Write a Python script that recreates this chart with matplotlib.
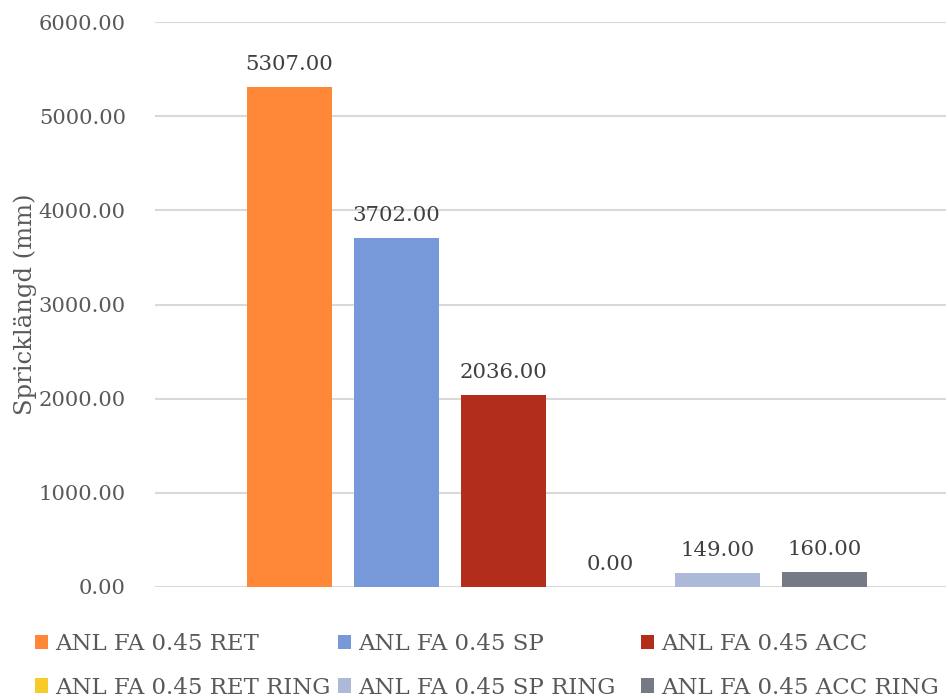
import matplotlib
matplotlib.use("Agg")
import matplotlib.pyplot as plt
from matplotlib.patches import Patch

series = ["ANL FA 0.45 RET", "ANL FA 0.45 SP", "ANL FA 0.45 ACC",
          "ANL FA 0.45 RET RING", "ANL FA 0.45 SP RING", "ANL FA 0.45 ACC RING"]
values = [5307.00, 3702.00, 2036.00, 0.00, 149.00, 160.00]
colors = ["#FF8838", "#7799D9", "#B22E1A", "#F6CB2A", "#ADB9D8", "#767A84"]
yticks = [0, 1000, 2000, 3000, 4000, 5000, 6000]
ylabel = "Spricklängd (mm)"

plt.rcParams["font.family"] = ["DejaVu Serif"]

W, H = 948, 700
fig = plt.figure(figsize=(W / 100, H / 100), dpi=100)
ax = fig.add_axes([155 / W, 1 - 587 / H, (946 - 155) / W, (587 - 22) / H])

pos = list(range(len(values)))
bars = ax.bar(pos, values, width=0.794, color=colors, zorder=3)
ax.bar_label(bars, labels=[f"{v:.2f}" for v in values], padding=9.5,
             fontsize=15.3, color="#404040")

ax.set_xlim(-1.257, 6.136)
ax.set_ylim(0, 6000)
ax.set_yticks(yticks)
ax.set_yticklabels([f"{t:.2f}" for t in yticks], fontsize=15.2, color="#595959")
ax.set_xticks([])
ax.tick_params(axis="y", length=0, pad=21)
ax.yaxis.grid(True, color="#D9D9D9", linewidth=1.5, zorder=0)
for s in ax.spines.values():
    s.set_visible(False)
ax.set_ylabel(ylabel, fontsize=17.5, color="#595959")
ax.yaxis.set_label_coords(-(155 - 37) / (946 - 155), 0.5)

# Legend: three columns of two rows, each column at its own x position
handles = [Patch(facecolor=c, edgecolor="none") for c in colors]
col_x = [35, 338, 641]
for j, x in enumerate(col_x):
    idx = [j, j + 3]
    fig.legend([handles[i] for i in idx], [series[i] for i in idx],
               loc="center left", bbox_to_anchor=(x / W, 1 - 666 / H),
               frameon=False, fontsize=16.5, labelcolor="#595959",
               handlelength=0.58, handleheight=0.58, handletextpad=0.3,
               labelspacing=0.92, borderpad=0, borderaxespad=0)

fig.savefig("out.png", dpi=100)
